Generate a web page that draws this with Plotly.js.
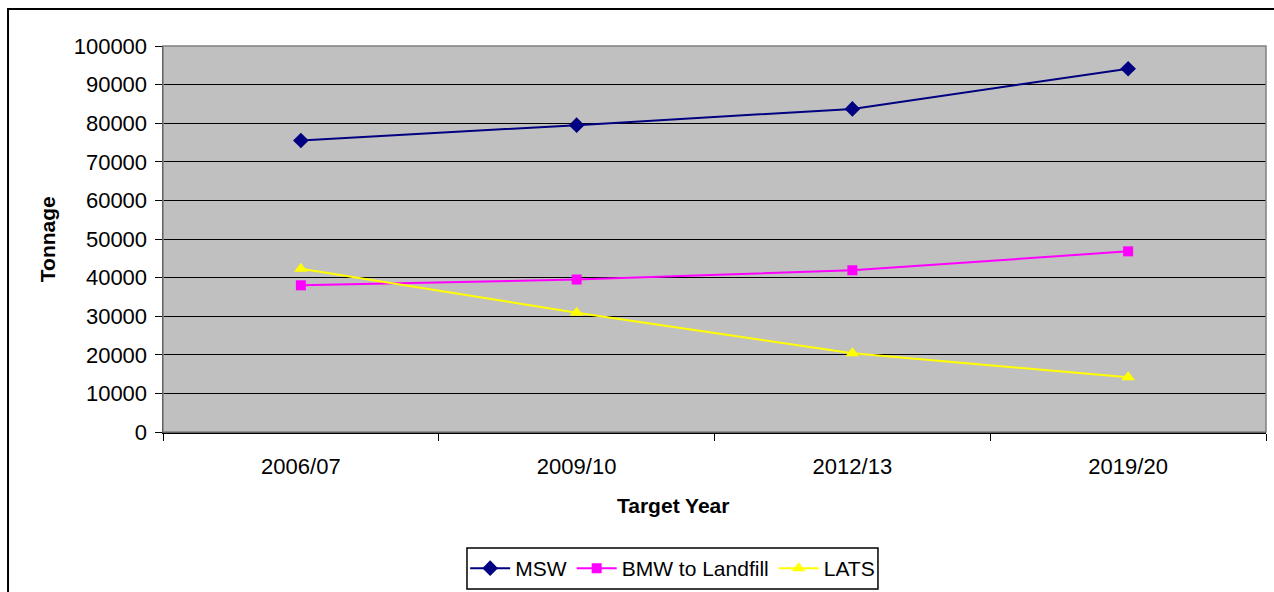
<!DOCTYPE html>
<html>
<head>
<meta charset="utf-8">
<script src="https://cdn.plot.ly/plotly-3.0.1.min.js"></script>
<style>html,body{margin:0;padding:0;background:#fff;}#chart{width:1274px;height:592px;}</style>
</head>
<body>
<div id="chart"></div>
<script>
const categories = ["2006/07", "2009/10", "2012/13", "2019/20"];
const msw = [75500, 79500, 83700, 94100];
const bmwToLandfill = [38000, 39500, 41900, 46800];
const lats = [42300, 30900, 20400, 14200];
const yTickValues = [0, 10000, 20000, 30000, 40000, 50000, 60000, 70000, 80000, 90000, 100000];

const font = "Liberation Sans, Arial, sans-serif";

const traces = [
  {x: categories, y: msw, name: "MSW", type: "scatter", mode: "lines+markers",
   line: {color: "#000080", width: 2}, marker: {symbol: "diamond", size: 12, color: "#000080"}},
  {x: categories, y: bmwToLandfill, name: "BMW to Landfill", type: "scatter", mode: "lines+markers",
   line: {color: "#FF00FF", width: 2}, marker: {symbol: "square", size: 10, color: "#FF00FF"}},
  {x: categories, y: lats, name: "LATS", type: "scatter", mode: "lines+markers",
   line: {color: "#FFFF00", width: 2}, marker: {symbol: "triangle-up", size: 12, color: "#FFFF00"}}
];

const layout = {
  width: 1274, height: 592,
  margin: {l: 163, r: 8, t: 46, b: 160},
  paper_bgcolor: "#ffffff",
  plot_bgcolor: "#C0C0C0",
  font: {family: font, size: 22, color: "#000"},
  showlegend: true,
  legend: {orientation: "h", x: 0.528, xref: "container", xanchor: "center",
           y: 0.0397, yref: "container", yanchor: "middle",
           borderwidth: 0, bgcolor: "rgba(0,0,0,0)",
           font: {family: font, size: 21, color: "#000"}, traceorder: "normal", itemwidth: 40},
  xaxis: {type: "category", range: [-0.5, 3.5], tickson: "boundaries",
          ticks: "outside", ticklen: 7, tickcolor: "#000", tickwidth: 1,
          showline: true, linecolor: "#000", linewidth: 1.5, showgrid: false, zeroline: false,
          tickfont: {family: font, size: 22, color: "#000"}, ticklabelstandoff: 14,
          automargin: false, fixedrange: true},
  yaxis: {range: [0, 100000], tickvals: yTickValues, ticktext: yTickValues.map(String),
          ticks: "outside", ticklen: 7, tickcolor: "#000", tickwidth: 1,
          showline: true, linecolor: "#000", linewidth: 1.5,
          showgrid: true, gridcolor: "#000", gridwidth: 1, zeroline: false,
          tickfont: {family: font, size: 22, color: "#000"}, ticklabelstandoff: 3,
          automargin: false, fixedrange: true},
  annotations: [
    {text: "<b>Target Year</b>", xref: "paper", yref: "paper", x: 0.462, y: -0.19,
     xanchor: "center", yanchor: "middle", showarrow: false,
     font: {family: font, size: 21, color: "#000"}},
    {text: "<b>Tonnage</b>", xref: "paper", yref: "paper", x: -0.105, y: 0.5,
     xanchor: "center", yanchor: "middle", showarrow: false, textangle: -90,
     font: {family: font, size: 21, color: "#000"}}
  ],
  shapes: [
    {type: "rect", xref: "paper", yref: "paper", x0: 0, x1: 1, y0: 0, y1: 1,
     line: {color: "#808080", width: 1.5}, fillcolor: "rgba(0,0,0,0)", layer: "above"},
    {type: "rect", xref: "paper", yref: "paper", x0: -0.1405, x1: 1.2, y0: -0.6, y1: 1.0959,
     line: {color: "#000", width: 2}, fillcolor: "rgba(0,0,0,0)", layer: "above"},
    {type: "rect", xref: "paper", yref: "paper", x0: 0.2756, x1: 0.6482, y0: -0.4067, y1: -0.3005,
     line: {color: "#000", width: 1.5}, fillcolor: "rgba(0,0,0,0)", layer: "above"}
  ]
};

Plotly.newPlot("chart", traces, layout, {displayModeBar: false, staticPlot: true});
</script>
</body>
</html>
